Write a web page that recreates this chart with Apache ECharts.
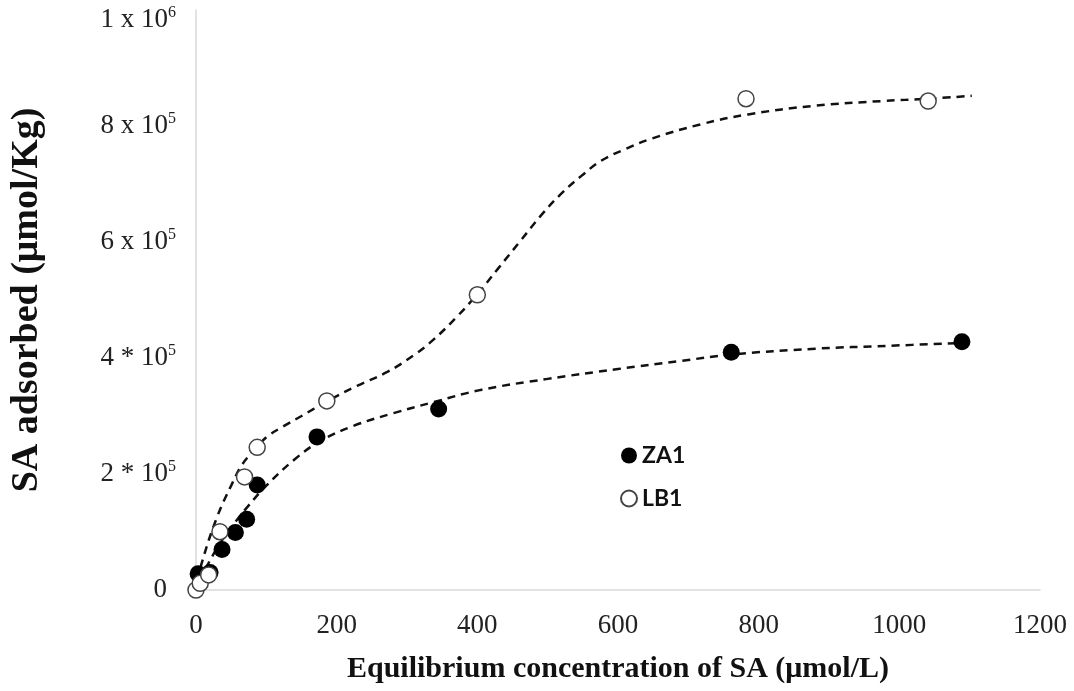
<!DOCTYPE html>
<html>
<head>
<meta charset="utf-8">
<script src="https://cdn.jsdelivr.net/npm/echarts@6/dist/echarts.min.js"></script>
<style>html,body{margin:0;padding:0;background:#fff}#c{width:1074px;height:691px}</style>
</head>
<body>
<div id="c"></div>
<script>
// ZA1 measured points
const zaX = [3, 20, 37, 56, 72, 87, 172, 345, 761, 1089];
const zaY = [28000, 30000, 70000, 99000, 122000, 181000, 264000, 312000, 410000, 428000];
// LB1 measured points
const lbX = [0, 6, 18, 34, 69, 87, 186, 400, 782, 1041];
const lbY = [0, 11500, 26000, 100500, 195000, 246000, 326000, 509000, 847000, 843000];
// fitted (dashed) curve for ZA1
const zaFitX = [5, 15, 35, 55, 75, 100, 140, 177, 224, 281, 338, 405, 500, 600, 690, 761, 880, 984, 1089];
const zaFitY = [15000, 40000, 82000, 116000, 146000, 180000, 225000, 257000, 283000, 305000, 324000, 345000, 364000, 381000, 395000, 406000, 416000, 421000, 426000];
// fitted (dashed) curve for LB1
const lbFitX = [3, 8, 30, 50, 65, 80, 92, 105, 124, 150, 186, 229, 272, 310, 338, 370, 400, 430, 462, 490, 519, 548, 576, 610, 647, 718, 785, 880, 975, 1041, 1103];
const lbFitY = [15000, 46000, 126000, 180000, 215000, 238000, 254000, 268000, 282000, 300000, 325000, 352000, 376000, 405000, 432000, 470000, 510000, 555000, 603000, 645000, 683000, 714000, 740000, 760000, 778000, 803000, 820000, 835000, 843000, 847000, 852000];
// axis tick labels
const xTickLabels = ['0', '200', '400', '600', '800', '1000', '1200'];
const yTickBase = ['0', '2 * 10', '4 * 10', '6 x 10', '8 x 10', '1 x 10'];
const yTickExp = ['', '5', '5', '5', '5', '6'];
const seriesNames = ['ZA1', 'LB1'];

const zip = (xs, ys) => xs.map((x, i) => [x, ys[i]]);
const serif = 'Liberation Serif';

const chart = echarts.init(document.getElementById('c'));
chart.setOption({
  animation: false,
  backgroundColor: '#fff',
  grid: { left: 196, right: 34, top: 10, bottom: 101, outerBoundsMode: 'none', containLabel: false },
  legend: {
    data: seriesNames,
    orient: 'vertical',
    left: 615, top: 439,
    itemGap: 20,
    itemWidth: 16, itemHeight: 16,
    textStyle: { fontFamily: 'Lato', fontWeight: 'bold', fontSize: 23, color: '#111' }
  },
  xAxis: {
    type: 'value', min: 0, max: 1200, interval: 200,
    name: 'Equilibrium concentration of SA (μmol/L)',
    nameLocation: 'middle', nameGap: 64,
    nameTextStyle: { fontFamily: serif, fontWeight: 'bold', fontSize: 30, color: '#111' },
    axisLine: { show: true, lineStyle: { color: '#d9d9d9', width: 1.5 } },
    axisTick: { show: false },
    splitLine: { show: false },
    axisLabel: {
      margin: 22, fontFamily: serif, fontSize: 27, color: '#222',
      formatter: function (v) { return xTickLabels[Math.round(v / 200)]; }
    }
  },
  yAxis: {
    type: 'value', min: 0, max: 1000000, interval: 200000,
    name: 'SA adsorbed (μmol/Kg)',
    nameLocation: 'middle', nameGap: 150, nameRotate: 90,
    nameTextStyle: { fontFamily: serif, fontWeight: 'bold', fontSize: 38, color: '#111' },
    axisLine: { show: true, lineStyle: { color: '#d9d9d9', width: 1.5 } },
    axisTick: { show: false },
    splitLine: { show: false },
    axisLabel: {
      margin: 20,
      formatter: function (v) {
        const i = Math.round(v / 200000);
        if (!yTickExp[i]) return '{z|' + yTickBase[i] + '}';
        const main = '{a|' + yTickBase[i] + '}{s|' + yTickExp[i] + '}';
        if (i === yTickBase.length - 1) return '{e| }\n' + main;
        return main;
      },
      rich: {
        a: { fontFamily: serif, fontSize: 27, color: '#222', lineHeight: 30 },
        z: { fontFamily: serif, fontSize: 27, color: '#222', lineHeight: 30, padding: [0, 9, 0, 0] },
        s: { fontFamily: serif, fontSize: 16, color: '#222', verticalAlign: 'top', lineHeight: 16 },
        e: { fontSize: 2, lineHeight: 20 }
      }
    }
  },
  series: [
    {
      name: 'ZA1 fit', type: 'line', data: zip(zaFitX, zaFitY), smooth: 0.4, showSymbol: false,
      lineStyle: { color: '#111', width: 2.5, type: [8, 6] }, z: 1, silent: true
    },
    {
      name: 'LB1 fit', type: 'line', data: zip(lbFitX, lbFitY), smooth: 0.4, showSymbol: false,
      lineStyle: { color: '#111', width: 2.5, type: [8, 6] }, z: 1, silent: true
    },
    {
      name: 'ZA1', type: 'scatter', data: zip(zaX, zaY), symbol: 'circle', symbolSize: 17,
      itemStyle: { color: '#000', opacity: 1 }, clip: false, z: 3
    },
    {
      name: 'LB1', type: 'scatter', data: zip(lbX, lbY), symbol: 'circle', symbolSize: 16,
      itemStyle: { color: '#fff', borderColor: '#444', borderWidth: 1.5, opacity: 1 }, clip: false, z: 3
    }
  ]
});
</script>
</body>
</html>
